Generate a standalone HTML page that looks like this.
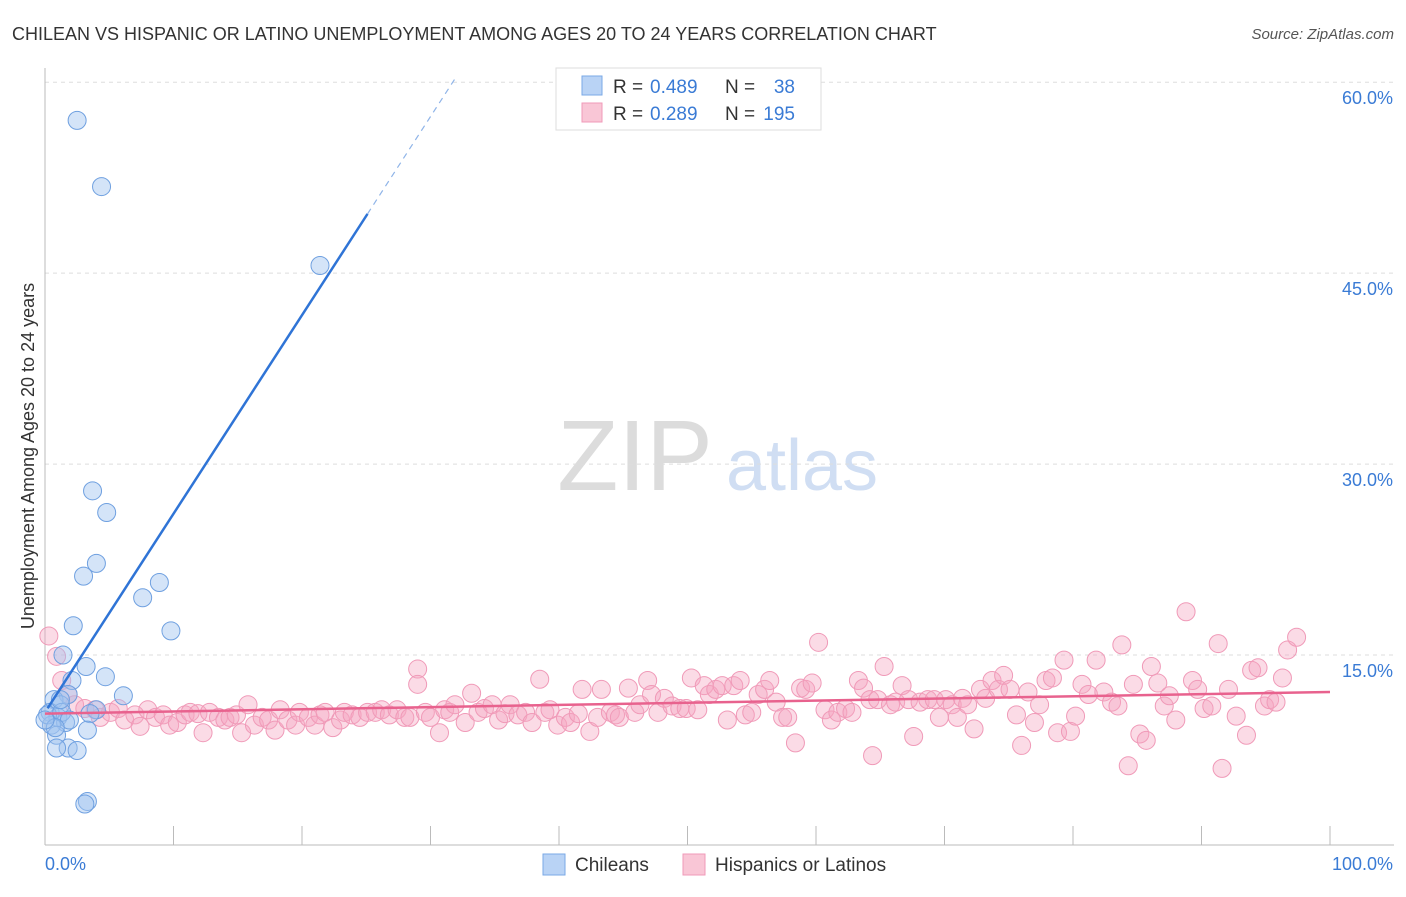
<!DOCTYPE html>
<html><head><meta charset="utf-8">
<style>
body{margin:0;background:#fff;font-family:"Liberation Sans",sans-serif;}
svg text{font-family:"Liberation Sans",sans-serif;}
</style></head>
<body>
<svg id="chart" width="1406" height="892" viewBox="0 0 1406 892">
<text x="12" y="40" font-size="18" fill="#333">CHILEAN VS HISPANIC OR LATINO UNEMPLOYMENT AMONG AGES 20 TO 24 YEARS CORRELATION CHART</text>
<text x="1394" y="39" font-size="15" fill="#555" font-style="italic" text-anchor="end">Source: ZipAtlas.com</text>
<g>
<text x="635" y="490" font-size="100" fill="#dcdcdc" font-family="Liberation Serif,serif" text-anchor="middle">ZIP</text>
<text x="802" y="490" font-size="72" fill="#d0def3" text-anchor="middle">atlas</text>
</g>
<g id="grid"></g>
<g id="axes"></g>
<g id="marks"></g>
<text transform="translate(34,456) rotate(-90)" font-size="18" fill="#333" text-anchor="middle">Unemployment Among Ages 20 to 24 years</text>
<g>
<rect x="556" y="68" width="265" height="62" fill="#fff" stroke="#ddd"/>
<rect x="582" y="76" width="20" height="19" fill="#b9d3f5" stroke="#7aa8e6"/>
<text x="613" y="93" font-size="19" fill="#333">R =</text>
<text x="650" y="93" font-size="19" fill="#3a7bd5">0.489</text>
<text x="725" y="93" font-size="19" fill="#333">N =</text>
<text x="795" y="93" font-size="19" fill="#3a7bd5" text-anchor="end">38</text>
<rect x="582" y="103" width="20" height="19" fill="#f9c6d6" stroke="#f09ab8"/>
<text x="613" y="120" font-size="19" fill="#333">R =</text>
<text x="650" y="120" font-size="19" fill="#3a7bd5">0.289</text>
<text x="725" y="120" font-size="19" fill="#333">N =</text>
<text x="795" y="120" font-size="19" fill="#3a7bd5" text-anchor="end">195</text>
</g>
<g>
<rect x="543" y="854" width="22" height="21" fill="#b9d3f5" stroke="#7aa8e6"/>
<text x="575" y="871" font-size="19" fill="#333">Chileans</text>
<rect x="683" y="854" width="22" height="21" fill="#f9c6d6" stroke="#f09ab8"/>
<text x="715" y="871" font-size="19" fill="#333">Hispanics or Latinos</text>
</g>
</svg>
<script>
const yTicks=[15,30,45,60];
const yTickLabels=["15.0%","30.0%","45.0%","60.0%"];
const xTickLabels=["0.0%","100.0%"];
const chileX=[2.5,4.4,21.4,3.7,4.8,4.0,3.0,8.9,7.6,9.8,2.2,1.4,3.2,4.7,2.1,6.1,1.8,0.7,1.2,4.0,3.5,0.4,1.0,1.6,0.5,3.3,0.9,1.8,2.5,0.9,3.3,3.1,0.2,1.3,1.9,0.8,0.0,1.2];
const chileY=[57.0,51.8,45.6,27.9,26.2,22.2,21.2,20.7,19.5,16.9,17.3,15.0,14.1,13.3,13.0,11.8,11.9,11.5,11.1,10.7,10.4,10.5,10.1,9.7,9.5,9.1,8.7,7.7,7.5,7.7,3.5,3.3,10.3,10.5,9.9,9.3,9.9,11.5];
const hispX=[0.3,0.9,1.3,1.8,2.3,3.1,3.9,4.3,5.1,5.7,6.2,7.0,7.4,8.0,8.6,9.2,9.7,10.3,10.9,11.3,11.9,12.3,12.8,13.5,14.0,14.4,14.9,15.3,15.8,16.3,16.9,17.4,17.9,18.3,18.9,19.5,19.8,20.5,21.0,21.4,21.8,22.4,23.0,23.3,23.9,24.5,25.1,25.7,26.2,26.8,27.4,28.0,28.4,29.0,29.0,29.6,30.0,30.7,31.1,31.5,31.9,32.7,33.2,33.7,34.2,34.8,35.3,35.8,36.2,36.8,37.4,37.9,38.5,38.9,39.3,39.9,40.5,40.9,41.5,41.8,42.4,43.0,43.3,44.0,44.4,44.7,45.4,45.9,46.3,46.9,47.2,47.7,48.2,48.8,49.4,49.9,50.3,50.8,51.3,51.7,52.2,52.7,53.1,53.6,54.1,54.5,55.0,55.5,56.0,56.4,56.9,57.4,57.8,58.4,58.8,59.2,59.7,60.2,60.7,61.2,61.7,62.3,62.8,63.3,63.7,64.2,64.4,64.8,65.3,65.8,66.2,66.7,67.2,67.6,68.1,68.7,69.2,69.6,70.1,70.6,71.0,71.4,71.8,72.3,72.8,73.2,73.7,74.2,74.6,75.1,75.6,76.0,76.5,77.0,77.4,77.9,78.4,78.8,79.3,79.8,80.2,80.7,81.2,81.8,82.4,83.0,83.5,83.8,84.3,84.7,85.2,85.7,86.1,86.6,87.1,87.5,88.0,88.8,89.3,89.7,90.2,90.8,91.3,91.6,92.1,92.7,93.5,93.9,94.4,94.9,95.3,95.8,96.3,96.7,97.4];
const hispY=[16.5,14.9,13.0,11.9,11.1,10.8,10.7,10.1,10.5,10.8,9.9,10.3,9.4,10.7,10.1,10.3,9.5,9.7,10.3,10.5,10.4,8.9,10.5,10.1,9.9,10.1,10.3,8.9,11.1,9.5,10.1,9.9,9.1,10.7,9.9,9.5,10.5,10.1,9.5,10.3,10.5,9.3,9.9,10.5,10.3,10.1,10.5,10.5,10.7,10.3,10.7,10.1,10.1,13.9,12.7,10.5,10.1,8.9,10.7,10.5,11.1,9.7,12.0,10.5,10.8,11.1,9.9,10.4,11.1,10.3,10.5,9.7,13.1,10.5,10.7,9.5,10.1,9.7,10.4,12.3,9.0,10.1,12.3,10.5,10.3,10.1,12.4,10.5,11.1,13.0,11.9,10.5,11.6,11.0,10.8,10.8,13.2,10.7,12.6,11.9,12.3,12.6,9.9,12.6,13.0,10.3,10.5,11.9,12.3,13.0,11.3,10.1,10.1,8.1,12.4,12.3,12.8,16.0,10.7,9.9,10.5,10.8,10.5,13.0,12.4,11.5,7.1,11.5,14.1,11.1,11.3,12.6,11.5,8.6,11.3,11.5,11.5,10.1,11.5,11.1,10.1,11.6,11.1,9.2,12.3,11.6,13.0,12.3,13.4,12.3,10.3,7.9,12.1,9.7,11.1,13.0,13.2,8.9,14.6,9.0,10.2,12.7,11.9,14.6,12.1,11.3,11.0,15.8,6.3,12.7,8.8,8.3,14.1,12.8,11.0,11.8,9.9,18.4,13.0,12.3,10.8,11.0,15.9,6.1,12.3,10.2,8.7,13.8,14.0,11.0,11.5,11.3,13.2,15.4,16.4];
const blueTrend=[10.5,1.56];
const pinkTrend=[10.4,0.017];

const NS="http://www.w3.org/2000/svg";
const X0=45,X1=1330,YB=846,PXPER=12.73;
function sx(v){return X0+(X1-X0)*v/100;}
function sy(v){return YB-v*PXPER;}
function mk(tag,attrs,parent){const e=document.createElementNS(NS,tag);for(const k in attrs)e.setAttribute(k,attrs[k]);parent.appendChild(e);return e;}
const grid=document.getElementById('grid'),axes=document.getElementById('axes'),marks=document.getElementById('marks');
yTicks.forEach((t,i)=>{
  const g=mk('line',{x1:X0,x2:1394,y1:sy(t),y2:sy(t),stroke:'#ddd','stroke-dasharray':'4,4'},grid);
  
  
  const l=mk('text',{x:1393,y:sy(t)+22,'font-size':18,fill:'#3a7bd5','text-anchor':'end'},axes);
  l.textContent=yTickLabels[i];
  
  
});
const ax=mk('line',{x1:X0,x2:1394,y1:845,y2:845,stroke:'#bbb'},axes);


const ay=mk('line',{x1:X0,x2:X0,y1:68,y2:845,stroke:'#bbb'},axes);


for(let i=1;i<=10;i++){
  const t=mk('line',{x1:sx(i*10),x2:sx(i*10),y1:826,y2:845,stroke:'#bbb'},axes);
  
  
}
const xl0=mk('text',{x:45,y:870,'font-size':18,fill:'#3a7bd5'},axes);xl0.textContent=xTickLabels[0];


const xl1=mk('text',{x:1393,y:870,'font-size':18,fill:'#3a7bd5','text-anchor':'end'},axes);xl1.textContent=xTickLabels[1];



hispX.forEach((x,i)=>{
  const c=mk('circle',{cx:sx(x),cy:sy(hispY[i]),r:9,fill:'rgba(245,165,192,0.4)',stroke:'#f09ab8','stroke-width':1},marks);
  
  
});
chileX.forEach((x,i)=>{
  const c=mk('circle',{cx:sx(x),cy:sy(chileY[i]),r:9,fill:'rgba(160,196,240,0.45)',stroke:'#6fa0e0','stroke-width':1},marks);
  
  
});
const pl=mk('line',{x1:sx(0),y1:sy(pinkTrend[0]),x2:sx(100),y2:sy(pinkTrend[0]+pinkTrend[1]*100),stroke:'#e8628e','stroke-width':2.5},marks);


const bx=25.1,bx2=32;
const bl=mk('line',{x1:sx(0.2),y1:sy(blueTrend[0]+blueTrend[1]*0.2),x2:sx(bx),y2:sy(blueTrend[0]+blueTrend[1]*bx),stroke:'#2f74d6','stroke-width':2.5},marks);


const bd=mk('line',{x1:sx(bx),y1:sy(blueTrend[0]+blueTrend[1]*bx),x2:sx(bx2),y2:sy(blueTrend[0]+blueTrend[1]*bx2),stroke:'#8fb4e8','stroke-width':1.2,'stroke-dasharray':'6,5'},marks);


</script>
</body></html>
